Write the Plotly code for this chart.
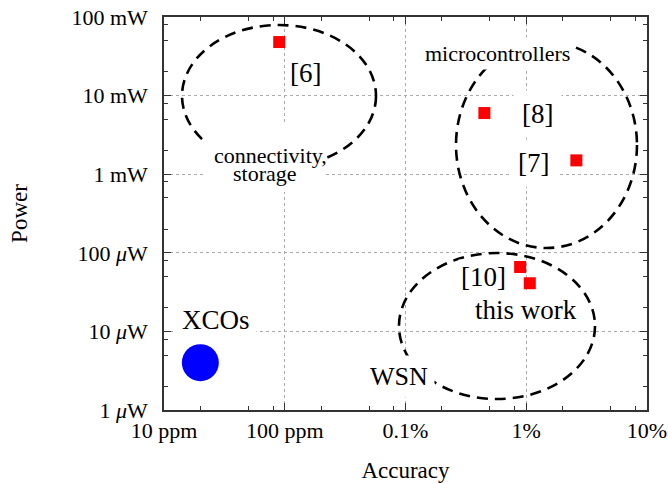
import numpy as np
import plotly.graph_objects as go

# ---- data ----
ref_names = ["[6]", "[8]", "[7]", "[10]", "this work"]
ref_accuracy = [9.0e-5, 4.5e-3, 2.6e-2, 8.9e-3, 1.07e-2]
ref_power = [4.8e-2, 6.0e-3, 1.5e-3, 6.6e-5, 4.1e-5]

xco_accuracy = [2.0e-5]
xco_power = [4.0e-6]

x_tickvals = [1e-5, 1e-4, 1e-3, 1e-2, 1e-1]
x_ticktext = ["10 ppm", "100 ppm", "0.1%", "1%", "10%"]
y_tickvals = [1e-6, 1e-5, 1e-4, 1e-3, 1e-2, 1e-1]
y_ticktext = ["1 <i>μ</i>W", "10 <i>μ</i>W", "100 <i>μ</i>W", "1 mW", "10 mW", "100 mW"]

# application regions (accuracy range, power range)
region_names = ["connectivity, storage", "microcontrollers", "WSN"]
region_acc = [(1.41e-5, 5.70e-4), (2.62e-3, 8.26e-2), (8.83e-4, 3.71e-2)]
region_pow = [(1.24e-3, 7.91e-2), (1.15e-4, 4.81e-2), (1.38e-6, 9.93e-5)]

FONT = "Liberation Serif"

fig = go.Figure()
fig.add_trace(go.Scatter(x=ref_accuracy, y=ref_power, mode="markers",
                         marker=dict(symbol="square", size=12, color="#ff0000",
                                     line=dict(width=0)),
                         showlegend=False, hoverinfo="skip"))
fig.add_trace(go.Scatter(x=xco_accuracy, y=xco_power, mode="markers",
                         marker=dict(symbol="circle", size=37, color="#0000ff",
                                     line=dict(width=0)),
                         showlegend=False, hoverinfo="skip"))

for (xa, xb), (ya, yb) in zip(region_acc, region_pow):
    fig.add_shape(type="circle", xref="x", yref="y", x0=xa, x1=xb, y0=ya, y1=yb,
                  line=dict(color="black", width=2.6, dash="11px,7px"), layer="above")

# white mask behind the two-line "connectivity, storage" label
fig.add_shape(type="rect", xref="x", yref="y",
              x0=10 ** -4.66, x1=10 ** -3.67, y0=10 ** -3.226, y1=10 ** -2.374,
              fillcolor="white", line=dict(width=0), layer="above")

ann = [
    # text, log10 x, log10 y, size, pad, bg
    ("[6]", -3.832, -1.712, 27, 3, True),
    ("[8]", -1.911, -2.234, 27, 8, True),
    ("[7]", -1.936, -2.858, 27, 8, True),
    ("[10]", -2.358, -4.308, 27, 2, True),
    ("this work", -2.002, -4.728, 27, 2, True),
    ("WSN", -3.054, -5.580, 26, 6, True),
    ("XCOs", -4.569, -4.855, 27, 6, True),
    ("microcontrollers", -2.242, -1.458, 22, 3, True),
    ("connectivity,", -4.114, -2.756, 22, 0, False),
    ("storage", -4.164, -2.985, 22, 0, False),
]
for t, ax_, ay_, s, p, bg in ann:
    fig.add_annotation(x=ax_, y=ay_, xref="x", yref="y", text=t, showarrow=False,
                       font=dict(family=FONT, size=s, color="black"),
                       bgcolor="white" if bg else "rgba(0,0,0,0)", borderpad=p)

axis_common = dict(
    showline=True, linecolor="#333333", linewidth=1.5, mirror="ticks",
    ticks="inside", ticklen=7, tickwidth=1, tickcolor="#333333",
    showgrid=True, gridcolor="#aaaaaa", gridwidth=1, griddash="dot",
    zeroline=False,
    tickfont=dict(family=FONT, size=22, color="black"),
)

fig.update_xaxes(type="log", range=[-5, -1], tickvals=x_tickvals, ticktext=x_ticktext,
                 minor=dict(tickvals=[m * d for d in [1e-5, 1e-4, 1e-3, 1e-2] for m in (2, 5, 8)],
                            ticks="inside", ticklen=4, tickcolor="#333333", showgrid=False),
                 title=dict(text="Accuracy", font=dict(family=FONT, size=23, color="black"),
                            standoff=21),
                 **axis_common)
fig.update_yaxes(type="log", range=[-6, -1], tickvals=y_tickvals, ticktext=y_ticktext,
                 ticklabelstandoff=10,
                 minor=dict(tickvals=[m * d for d in [1e-6, 1e-5, 1e-4, 1e-3, 1e-2] for m in (2, 5, 8)],
                            ticks="inside", ticklen=4, tickcolor="#333333", showgrid=False),
                 title=dict(text="Power", font=dict(family=FONT, size=23, color="black"),
                            standoff=37),
                 **axis_common)

fig.update_layout(width=668, height=483, margin=dict(l=164, r=21, t=17, b=73, autoexpand=False),
                  plot_bgcolor="white", paper_bgcolor="white", showlegend=False)

fig.write_html("out.html")
